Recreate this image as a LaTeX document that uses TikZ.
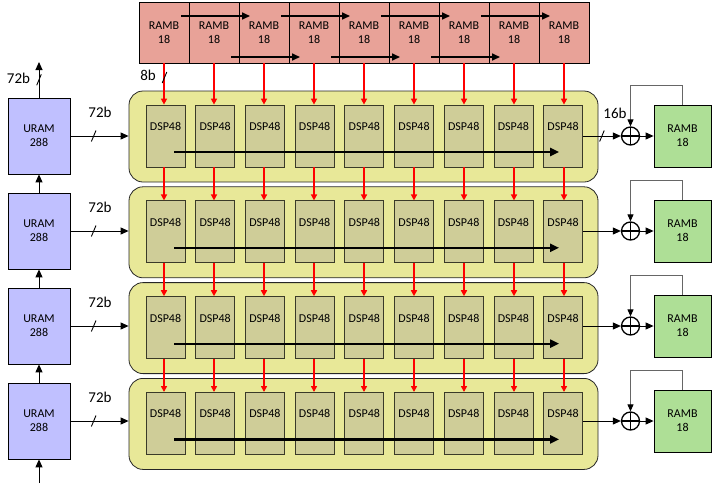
\documentclass[tikz,border=0pt]{standalone}
\usepackage{fontspec}
\setmainfont{Carlito}
\usetikzlibrary{arrows.meta, positioning, calc}
\definecolor{rambred}{HTML}{E8A298}
\definecolor{lanefill}{HTML}{E8E898}
\definecolor{dspfill}{HTML}{CFCD98}
\definecolor{dspline}{HTML}{3A3A28}
\definecolor{uramfill}{HTML}{C0C0FF}
\definecolor{ramgreen}{HTML}{AEDF96}
\tikzset{
  >=Triangle,
  font=\fontsize{12}{14}\selectfont,
  rambtop/.style={
    draw=black, fill=rambred, line width=0.8pt, inner sep=0,
    minimum width=50pt, minimum height=61pt, align=center
  },
  lane/.style={
    draw=black!85, fill=lanefill, line width=0.8pt, rounded corners=14pt,
    minimum width=469pt, minimum height=91pt
  },
  dsp/.style={
    draw=dspline, fill=dspfill, line width=0.8pt, inner sep=0,
    minimum width=39pt, minimum height=62pt
  },
  dsptext/.style={anchor=north, inner sep=0, yshift=-17.5pt},
  uram/.style={
    draw=black, fill=uramfill, line width=0.8pt, inner sep=0,
    minimum width=62pt, minimum height=76pt, align=center
  },
  ramout/.style={
    draw=black, fill=ramgreen, line width=0.8pt, inner sep=0,
    minimum width=57pt, minimum height=62pt, align=center
  },
  adder/.style={
    circle, draw=black, line width=1.3pt, minimum size=18pt, inner sep=0,
    path picture={
      \draw[line width=1.3pt] (path picture bounding box.north) -- (path picture bounding box.south)
        (path picture bounding box.west) -- (path picture bounding box.east);
    }
  },
  redarr/.style={draw=red, line width=1.8pt, -{Triangle[length=6pt,width=6pt]}},
  casc/.style={line width=2.2pt, -{Triangle[length=9pt,width=8pt]}},
  shiftarr/.style={line width=1.6pt, -{Triangle[length=8pt,width=7pt]}},
  busarr/.style={line width=1pt, -{Triangle[length=8pt,width=7pt]}},
  fb/.style={draw=black!60, line width=1pt, -{Triangle[length=7pt,width=6pt,fill=black,color=black]}},
  bits/.style={font=\fontsize{15}{17}\selectfont, inner sep=0},
  buscut/.pic={\draw[-, line width=0.9pt] (-2.3,5.5) -- (2.3,-5.5);}
}
\begin{document}
\begin{tikzpicture}[x=1pt, y=-1pt]
  \useasboundingbox (0,0) rectangle (712,483);
  % shift register of block RAMs
  \foreach \c in {1,...,9}
    \node[rambtop] (rt\c) at ({164+(\c-1)*50}, 32.5) {RAMB\\18};
  \foreach \a/\b in {1/3,3/5,5/7,7/9}
    \draw[shiftarr] ($(rt\a.center)+(17,-16.5)$) -- ($(rt\b.center)+(-14,-16.5)$);
  \foreach \a/\b in {2/4,4/6,6/8}
    \draw[shiftarr] ($(rt\a.center)+(17,24.5)$) -- ($(rt\b.center)+(-14,24.5)$);
  % rows of DSP48 slices
  \foreach \r in {1,...,4} {
    \pgfmathsetmacro\yy{136.5+(\r-1)*95.8}
    \pgfmathsetmacro\yu{136+(\r-1)*95}
    \node[lane] (lane\r) at (363.5, \yy) {};
    \foreach \c in {1,...,9}
      \node[dsp, label={[dsptext]north:DSP48}] (d\r-\c) at ({165.5+(\c-1)*49.7}, \yy-0.5) {};
    \draw[casc] ($(d\r-1.center)+(8.5,16)$) -- ($(d\r-9.center)+(-4,16)$);
    \node[uram] (u\r) at (39, \yu) {URAM\\288};
    \node[bits] (w\r) at (100, \yu-24) {72b};
    \draw[busarr] (u\r.east) -- pic[pos=0.4]{buscut} (u\r.east -| lane\r.west);
    \node[adder] (s\r) at (630.5, \yu) {};
    \node[ramout] (g\r) at (682.5, \yu) {RAMB\\18};
    \draw[busarr] (s\r.east) -- (g\r.west);
    \draw[fb] (g\r.north) -- ++(0,-19) -| (s\r.north);
  }
  % outputs to the adders
  \draw[busarr] (d1-9.east |- s1) -- pic[pos=0.5]{buscut} (s1.west);
  \foreach \r in {2,3,4}
    \draw[busarr] (d\r-9.east |- s\r) -- (s\r.west);
  \node[bits] (w16) at (615, 113) {16b};
  % red links
  \foreach \c in {1,...,9}
    \draw[redarr] (rt\c.south) -- (rt\c.south |- d1-\c.north);
  \foreach \r/\n in {1/2,2/3,3/4}
    \foreach \c in {1,...,9}
      \draw[redarr] (d\r-\c.south -| rt\c.south) -- (rt\c.south |- d\n-\c.north);
  \draw[line width=0.9pt] (162.2,83) -- (166.8,72);
  \node[bits] (w8) at (148, 75) {8b};
  % URAM cascade
  \coordinate (uout) at (39, 62);
  \coordinate (uin) at (39, 483);
  \draw[busarr] (u1.north) -- pic[pos=0.5]{buscut} (uout);
  \node[bits] (wtop) at (18.5, 78) {72b};
  \foreach \r/\p in {2/1,3/2,4/3}
    \draw[busarr] (u\r.north) -- (u\p.south);
  \draw[busarr] (uin) -- (u4.south);
\end{tikzpicture}
\end{document}
